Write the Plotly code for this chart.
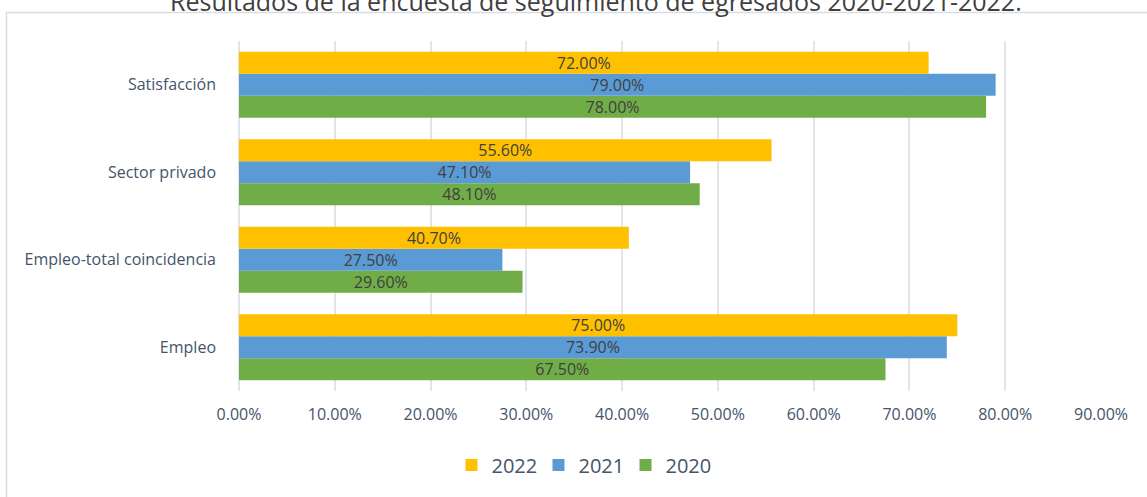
import plotly.graph_objects as go

categories = ["Empleo", "Empleo-total coincidencia", "Sector privado", "Satisfacción"]
v2020 = [67.5, 29.6, 48.1, 78.0]
v2021 = [73.9, 27.5, 47.1, 79.0]
v2022 = [75.0, 40.7, 55.6, 72.0]
tick_vals = [0, 10, 20, 30, 40, 50, 60, 70, 80, 90]
tick_text = [f"{v:.2f}%" for v in tick_vals]

W, H = 1147, 497
L, R, T, B = 239, 1101, 41, 391

def px_x(p):
    return (p - L) / (R - L)

def px_y(p):
    return (B - p) / (B - T)

series = [("2020", v2020, "#70AD47"), ("2021", v2021, "#5B9BD5"), ("2022", v2022, "#FFC000")]

fig = go.Figure()
for name, vals, col in series:
    fig.add_trace(go.Bar(
        y=categories, x=vals, name=name, orientation="h",
        marker=dict(color=col, line=dict(width=0)),
        text=vals, texttemplate="%{x:.2f}%",
        textposition="inside", insidetextanchor="middle", constraintext="none",
        textfont=dict(family="Open Sans", size=16, color="#404040"),
        hoverinfo="skip",
    ))

fig.update_layout(
    width=W, height=H,
    margin=dict(l=L, r=W - R, t=T, b=H - B, pad=0, autoexpand=False),
    paper_bgcolor="white", plot_bgcolor="white",
    barmode="group", bargap=0.246, bargroupgap=0,
    font=dict(family="Open Sans", size=16, color="#44546A"),
    showlegend=True,
    legend=dict(orientation="h", traceorder="reversed", x=px_x(582), y=px_y(465),
                xanchor="center", yanchor="middle",
                font=dict(family="Open Sans", size=20, color="#44546A"),
                itemwidth=30, entrywidth=42, bgcolor="rgba(0,0,0,0)"),
    xaxis=dict(range=[0, 90], tickvals=tick_vals, ticktext=tick_text,
               showgrid=True, gridcolor="#E1E5EA", gridwidth=2,
               zeroline=True, zerolinecolor="#E1E5EA", zerolinewidth=2,
               showline=False, ticks="", ticklabelstandoff=12,
               tickfont=dict(family="Open Sans", size=16, color="#44546A")),
    yaxis=dict(categoryorder="array", categoryarray=categories,
               showgrid=False, zeroline=False, showline=False, ticks="",
               ticklabelstandoff=22,
               tickfont=dict(family="Open Sans", size=16, color="#44546A")),
)

fig.add_shape(type="rect", xref="paper", yref="paper",
              x0=px_x(6.5), x1=px_x(1175), y0=px_y(520), y1=px_y(12.5),
              line=dict(color="#D9DDE3", width=1.5), fillcolor="rgba(0,0,0,0)", layer="below")

fig.add_annotation(text="Resultados de la encuesta de seguimiento de egresados 2020-2021-2022.",
                   xref="paper", yref="paper", x=px_x(596), y=px_y(1),
                   xanchor="center", yanchor="middle", showarrow=False,
                   font=dict(family="Open Sans", size=25, color="#404040"))

fig.write_html("out.html", config={"displayModeBar": False, "staticPlot": True},
               post_script="document.body.style.margin='0';document.body.style.overflow='hidden';")
